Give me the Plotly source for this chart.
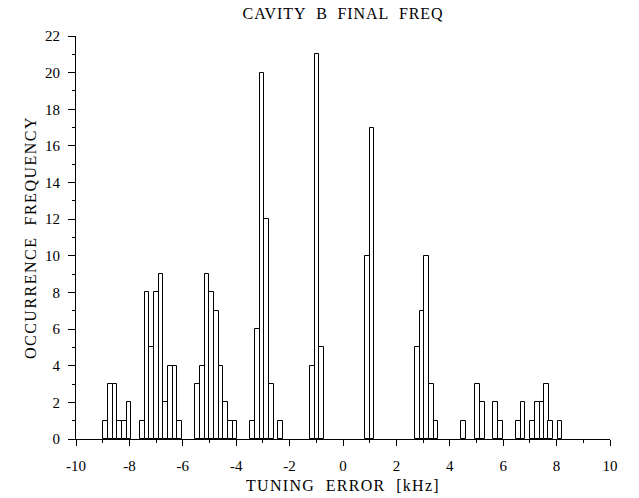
import plotly.graph_objects as go

# Bar centres (kHz) and occurrence counts
tuning_error_khz = [
    -8.895, -8.72, -8.545, -8.37, -8.195, -8.02,
    -7.521, -7.340, -7.165, -6.990, -6.815, -6.640, -6.466, -6.290, -6.116,
    -5.461, -5.273, -5.093, -4.918, -4.743, -4.568, -4.393, -4.218, -4.049,
    -3.382, -3.206, -3.030, -2.855, -2.680, -2.333,
    -1.147, -0.972, -0.797,
    0.913, 1.087,
    2.785, 2.960, 3.135, 3.310, 3.484,
    4.520, 5.045, 5.220, 5.720, 5.894, 6.568, 6.743,
    7.105, 7.280, 7.455, 7.616, 7.780, 8.130,
]
occurrence = [
    1, 3, 3, 1, 1, 2,
    1, 8, 5, 8, 9, 2, 4, 4, 1,
    3, 4, 9, 8, 7, 4, 2, 1, 1,
    1, 6, 20, 12, 3, 1,
    4, 21, 5,
    10, 17,
    5, 7, 10, 3, 1,
    1, 3, 2, 2, 1, 1, 2,
    1, 2, 2, 3, 1, 1,
]
x_ticks = [-10, -8, -6, -4, -2, 0, 2, 4, 6, 8, 10]
y_ticks = [0, 2, 4, 6, 8, 10, 12, 14, 16, 18, 20, 22]

title_text = "CAVITY B FINAL FREQ"
x_title = "TUNING ERROR [kHz]"
y_title = "OCCURRENCE FREQUENCY"

FONT = "Liberation Serif"
BIN_W = 0.175

fig = go.Figure(
    go.Bar(
        x=tuning_error_khz,
        y=occurrence,
        width=BIN_W,
        marker=dict(color="white", line=dict(color="black", width=1)),
    )
)

def spaced(t, ls):
    return f'<span style="letter-spacing:{ls}px">{t.replace(" ", chr(160) * 2)}</span>'

fig.update_layout(
    width=639,
    height=498,
    margin=dict(l=76, r=29, t=36, b=59, autoexpand=False),
    paper_bgcolor="white",
    plot_bgcolor="white",
    showlegend=False,
    bargap=0,
    font=dict(family=FONT, color="black", size=15),
    title=dict(
        text=spaced(title_text, 0.9),
        x=343 / 639,
        xanchor="center",
        xref="container",
        y=1 - 13 / 498,
        yanchor="middle",
        yref="container",
        font=dict(family=FONT, size=16, color="black"),
    ),
)

# x-axis title as an annotation so it can sit exactly where the reference has it
fig.add_annotation(
    text=spaced(x_title, 1.3),
    x=0.5, xref="paper", xanchor="center",
    y=-46 / 403, yref="paper", yanchor="middle",
    showarrow=False,
    font=dict(family=FONT, size=16, color="black"),
)

fig.update_xaxes(
    range=[-10, 10],
    automargin=False,
    tickmode="array",
    tickvals=x_ticks,
    ticktext=[str(v) for v in x_ticks],
    ticks="outside",
    ticklen=6,
    tickwidth=1,
    tickcolor="black",
    minor=dict(dtick=1, tick0=-10, ticks="outside", ticklen=3, tickcolor="black", tickwidth=1, showgrid=False),
    showline=True,
    linecolor="black",
    linewidth=1,
    showgrid=False,
    zeroline=False,
    tickfont=dict(family=FONT, size=15, color="black"),
    ticklabelstandoff=7,
)
fig.update_yaxes(
    range=[0, 22],
    automargin=False,
    tickmode="array",
    tickvals=y_ticks,
    ticktext=[str(v) for v in y_ticks],
    ticks="outside",
    ticklen=7,
    tickwidth=1,
    tickcolor="black",
    minor=dict(dtick=1, tick0=0, ticks="outside", ticklen=3, tickcolor="black", tickwidth=1, showgrid=False),
    showline=True,
    linecolor="black",
    linewidth=1,
    showgrid=False,
    zeroline=False,
    tickfont=dict(family=FONT, size=15, color="black"),
    ticklabelstandoff=5,
    title=dict(text=spaced(y_title, 1.5), standoff=4, font=dict(family=FONT, size=16, color="black")),
)

fig.write_html("out.html")
